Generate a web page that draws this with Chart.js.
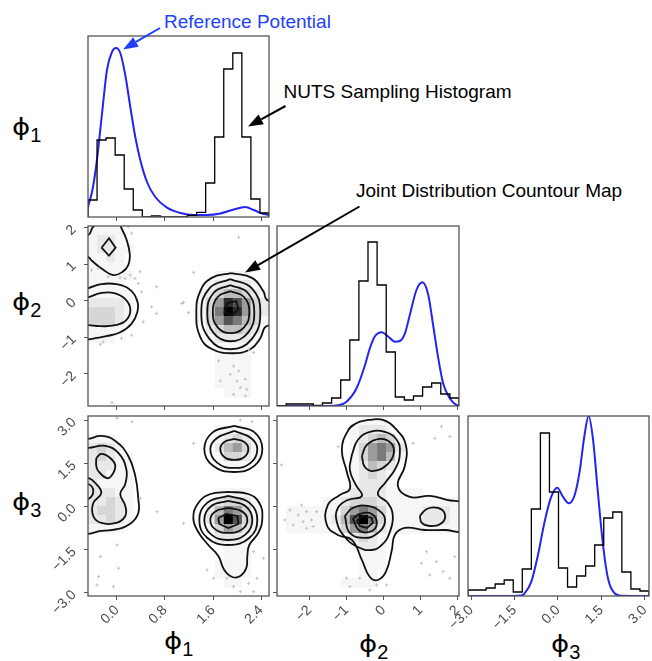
<!DOCTYPE html>
<html>
<head>
<meta charset="utf-8">
<script src="https://cdn.jsdelivr.net/npm/chart.js@4.4.0/dist/chart.umd.min.js"></script>
<style>
  body { margin: 0; background: #fff; width: 652px; height: 661px; position: relative; overflow: hidden;
         font-family: "Liberation Sans", Arial, sans-serif; }
  canvas.panel { position: absolute; }
  .note { position: absolute; font-size: 19px; line-height: 19px; white-space: nowrap; color: #000; }
  .sym { position: absolute; font-family: "DejaVu Sans", sans-serif; font-size: 23px; line-height: 23px;
         white-space: nowrap; color: #000; }
  .sym .g { display: inline-block; transform: scale(1.2, 1); transform-origin: left center; margin-right: 3px; }
  .sym .ix { font-family: "Liberation Sans", Arial, sans-serif; font-size: 20px; position: relative; top: 7px; }
  #arrows { position: absolute; left: 0; top: 0; pointer-events: none; }
</style>
</head>
<body>
<div class="note" style="left:164px;top:12px;color:#1f3fff">Reference Potential</div>
<div class="note" style="left:283.5px;top:82px">NUTS Sampling Histogram</div>
<div class="note" style="left:356px;top:180.5px">Joint Distribution Countour Map</div>

<div class="sym" style="left:12px;top:116px"><span class="g">ϕ</span><span class="ix">1</span></div>
<div class="sym" style="left:12px;top:291px"><span class="g">ϕ</span><span class="ix">2</span></div>
<div class="sym" style="left:12px;top:491px"><span class="g">ϕ</span><span class="ix">3</span></div>
<div class="sym" style="left:164px;top:630px"><span class="g">ϕ</span><span class="ix">1</span></div>
<div class="sym" style="left:359px;top:633px"><span class="g">ϕ</span><span class="ix">2</span></div>
<div class="sym" style="left:551px;top:633px"><span class="g">ϕ</span><span class="ix">3</span></div>

<canvas id="arrows" width="652" height="661"></canvas>

<script>
// axis ranges shared by the whole corner plot
const phi1Range = [-0.483, 2.533];
const phi2Range = [-2.88, 2.04];
const phi3Range = [-3.11, 3.15];

const phi1Ticks = [0, 0.8, 1.6, 2.4];
const phi2Ticks = [-2, -1, 0, 1, 2];
const phi3Ticks = [-3, -1.5, 0, 1.5, 3];

// NUTS samples, 20 bins over each range
const phi1Counts = [17, 77, 79, 62, 28, 7, 0, 1, 0, 0, 0, 1.7, 4.7, 34, 80, 148, 164, 80, 18, 4];
const phi2Counts = [0, 2, 2, 2, 0.5, 3, 8, 26, 66, 125, 164, 121, 54, 9, 6, 10, 19, 23, 12, 8];
const phi3Counts = [6, 6, 8, 12, 16, 4, 27, 87, 163, 104, 28, 9, 20, 30, 51, 78, 84, 24, 7, 5];

// reference potential (marginal density, same vertical units as the counts)
const phi1RefX = [-0.484, -0.406, -0.334, -0.25, -0.167, -0.084, -0.017, 0.055, 0.138, 0.222, 0.305, 0.388,
                  0.5, 0.638, 0.833, 1.055, 1.277, 1.5, 1.722, 1.944, 2.138, 2.277, 2.416, 2.533];
const phi1RefY = [10, 28, 57, 103, 147, 165, 169, 164, 142, 110, 80, 57, 35, 20, 9.3, 4, 2, 2, 3.5, 7.5, 10, 7, 3.5, 2];

const phi2RefX = [-2.88, -1.6, -1.27, -1.0, -0.73, -0.5, -0.37, -0.24, -0.05, 0.13, 0.31, 0.44, 0.58, 0.71,
                  0.89, 1.05, 1.21, 1.34, 1.48, 1.61, 1.79, 1.97, 2.04];
const phi2RefY = [0, 0, 0.5, 4.3, 17.7, 41, 57.7, 69.3, 73.7, 69.3, 64.3, 65, 72.7, 91, 116, 123.7, 111, 81,
                  47.7, 22.7, 7.7, 1, 0.5];

const phi3RefX = [-3.11, -1.6, -1.27, -1.15, -0.92, -0.69, -0.46, -0.23, -0.02, 0.17, 0.38, 0.58, 0.75, 0.92,
                  1.06, 1.21, 1.38, 1.56, 1.73, 1.96, 2.19, 3.15];
const phi3RefY = [0, 0, 0.5, 2.7, 14.3, 41, 74.3, 99.3, 108.3, 99.3, 92.7, 101, 124.3, 161, 180, 157.7, 104.3,
                  51, 17.7, 2.7, 0.3, 0];

// 2D histogram shading, one digit per bin (0 empty .. 9 darkest), top row first
const cells21 = [
  "11110000000000000000",
  "12210000000000000000",
  "12211000000000000000",
  "11210000000000000000",
  "11110000000000000000",
  "11111000000000111100",
  "11110000000001222210",
  "11111000000012344321",
  "22221000000013587532",
  "33321000000013698532",
  "33321000000013576431",
  "11110000000002344320",
  "11100000000001222210",
  "00000000000000111100",
  "00000000000000111100",
  "00000000000000111100",
  "00000000000000111100",
  "00000000000000111100",
  "00000000000000011100",
  "00000000000000000000"
];
const cells31 = [
  "00000000000000000000",
  "00000000000000111100",
  "11100000000000123210",
  "23210000000000245310",
  "23211000000000133210",
  "22211000000000011100",
  "22111000000000000000",
  "21111000000000000000",
  "22211000000000111100",
  "22321000000001233210",
  "23321000000002465310",
  "22321000000002597310",
  "11110000000001354210",
  "00000000000000222100",
  "00000000000000011100",
  "00000000000000011100",
  "00000000000000111100",
  "00000000000000111100",
  "00000000000000011000",
  "00000000000000000000"
];
const cells32 = [
  "00000000011100000000",
  "00000000122210000000",
  "00000000123431000000",
  "00000000135652000000",
  "00000000135641000000",
  "00000000124320000000",
  "00000000123210000000",
  "00000000122210000000",
  "00000001222211110000",
  "00000112333211111111",
  "01111113565311112221",
  "01111124796311112221",
  "01111113564211111111",
  "00000001232100000000",
  "00000000122100000000",
  "00000000011100000000",
  "00000000011100000000",
  "00000000011000000000",
  "00000001111000000000",
  "00000000000000000000"
];

// density contour levels, as (x, y) in data units
const contours21 = [
  [[1.905,0.753],[2.255,0.616],[2.438,0.26],[2.505,0.014],[2.805,-0.041],[2.805,-0.644],[2.488,-0.699],
   [2.388,-1.027],[2.222,-1.329],[1.922,-1.438],[1.588,-1.329],[1.388,-1.0],[1.322,-0.315],[1.388,0.26],
   [1.572,0.616],[1.905,0.753]],
  [[1.888,0.589],[2.248,0.337],[2.388,-0.315],[2.248,-1.044],[1.888,-1.329],[1.54,-1.044],[1.405,-0.315],
   [1.54,0.337],[1.888,0.589]],
  [[1.888,0.425],[2.177,0.216],[2.288,-0.315],[2.177,-0.888],[1.888,-1.11],[1.612,-0.888],[1.505,-0.315],
   [1.612,0.216],[1.888,0.425]],
  [[1.888,0.26],[2.117,0.099],[2.205,-0.315],[2.117,-0.729],[1.888,-0.89],[1.678,-0.729],[1.597,-0.315],
   [1.678,0.099],[1.888,0.26]],
  [[-0.695,0.26],[-0.478,0.342],[-0.262,0.452],[-0.012,0.452],[0.205,0.315],[0.338,-0.014],[0.338,-0.315],
   [0.238,-0.644],[0.055,-0.863],[-0.178,-0.973],[-0.362,-1.027],[-0.478,-1.055],[-0.695,-1.082]],
  [[-0.695,0.068],[-0.478,0.096],[-0.278,0.205],[-0.045,0.205],[0.138,0.041],[0.222,-0.233],[0.155,-0.534],
   [-0.028,-0.671],[-0.278,-0.699],[-0.478,-0.671],[-0.695,-0.644]],
  [[0.022,2.37],[0.055,2.068],[0.155,1.685],[0.213,1.274],[0.188,0.973],[0.088,0.781],[-0.062,0.699],
   [-0.245,0.863],[-0.412,1.082],[-0.478,1.192],[-0.695,1.356]],
  [[-0.695,1.74],[-0.478,1.795],[-0.412,1.986],[-0.378,2.068],[-0.362,2.37]]
];
const cores21 = [
  [[1.838,-0.068],[1.988,-0.014],[2.022,-0.233],[1.922,-0.397],[1.788,-0.315],[1.838,-0.068]],
  [[-0.257,1.447],[-0.133,1.704],[-0.023,1.447],[-0.133,1.227],[-0.257,1.447]]
];

const contours31 = [
  [[1.955,2.803],[2.292,2.581],[2.422,2.003],[2.292,1.426],[1.955,1.203],[1.595,1.426],[1.455,2.003],
   [1.595,2.581],[1.955,2.803]],
  [[1.955,2.63],[2.232,2.386],[2.338,2.003],[2.232,1.527],[1.955,1.343],[1.667,1.527],[1.555,2.003],
   [1.667,2.386],[1.955,2.63]],
  [[1.955,2.351],[2.122,2.247],[2.188,2.003],[2.122,1.725],[1.955,1.621],[1.788,1.725],[1.722,2.003],
   [1.788,2.247],[1.955,2.351]],
  [[1.855,0.508],[2.188,0.438],[2.372,0.125],[2.422,-0.397],[2.355,-0.918],[2.205,-1.336],[2.172,-1.718],
   [2.155,-2.136],[2.055,-2.414],[1.922,-2.449],[1.788,-2.205],[1.688,-1.718],[1.522,-1.336],[1.355,-0.884],
   [1.272,-0.397],[1.355,0.125],[1.555,0.438],[1.855,0.508]],
  [[1.855,0.369],[2.203,0.136],[2.338,-0.466],[2.203,-1.092],[1.855,-1.336],[1.507,-1.092],[1.372,-0.466],
   [1.507,0.136],[1.855,0.369]],
  [[1.855,0.195],[2.143,0.01],[2.255,-0.466],[2.143,-0.967],[1.855,-1.162],[1.567,-0.967],[1.455,-0.466],
   [1.567,0.01],[1.855,0.195]],
  [[1.855,-0.049],[2.083,-0.167],[2.172,-0.466],[2.083,-0.793],[1.855,-0.918],[1.638,-0.793],[1.555,-0.466],
   [1.638,-0.167],[1.855,-0.049]],
  [[-0.695,2.317],[-0.478,2.351],[-0.262,2.456],[-0.028,2.282],[0.188,1.76],[0.305,1.064],[0.355,0.264],
   [0.355,-0.223],[0.238,-0.57],[0.022,-0.779],[-0.262,-0.849],[-0.478,-0.953],[-0.695,-0.988]],
  [[-0.695,2.038],[-0.478,2.038],[-0.195,2.108],[0.022,1.864],[0.155,1.308],[0.138,0.786],[0.055,0.438],
   [0.138,0.021],[0.138,-0.327],[-0.012,-0.57],[-0.262,-0.57],[-0.395,-0.327],[-0.395,0.125],[-0.262,0.473],
   [-0.362,0.821],[-0.478,0.995],[-0.695,1.064]],
  [[-0.695,0.821],[-0.478,0.786],[-0.395,0.543],[-0.478,0.264],[-0.695,0.23]],
  [[-0.345,1.69],[-0.262,1.83],[-0.112,1.69],[-0.028,1.412],[-0.095,1.064],[-0.178,0.995],[-0.312,1.238],
   [-0.345,1.412],[-0.345,1.69]]
];
const cores31 = [
  [[1.688,-0.397],[1.822,-0.257],[2.005,-0.327],[2.022,-0.605],[1.855,-0.744],[1.705,-0.605],[1.688,-0.397]]
];

const contours32 = [
  [[-0.424,3.012],[-0.019,3.012],[0.359,2.664],[0.603,2.143],[0.576,1.412],[0.386,0.717],[0.711,0.334],
   [1.251,0.369],[1.711,0.23],[2.197,0.056],[2.197,-0.814],[1.657,-0.814],[1.116,-0.814],[0.576,-0.744],
   [0.305,-0.988],[0.224,-1.51],[0.062,-2.275],[-0.154,-2.553],[-0.37,-2.449],[-0.586,-1.857],[-0.857,-1.162],
   [-1.235,-0.988],[-1.532,-0.64],[-1.505,0.056],[-1.181,0.403],[-0.911,0.612],[-0.992,1.204],[-1.127,1.969],
   [-0.965,2.63],[-0.722,2.908],[-0.424,3.012]],
  [[-0.857,1.795],[-0.695,2.317],[-0.37,2.595],[0.035,2.595],[0.359,2.317],[0.441,1.865],[0.332,1.343],
   [0.062,0.856],[-0.154,0.438],[0.116,0.125],[0.251,-0.327],[0.17,-0.883],[-0.019,-1.301],[-0.316,-1.51],
   [-0.695,-1.405],[-1.046,-1.057],[-1.262,-0.536],[-1.235,-0.049],[-0.965,0.23],[-0.586,0.369],[-0.749,0.751],
   [-0.911,1.273],[-0.857,1.795]],
  [[-0.586,1.76],[-0.451,2.143],[-0.1,2.351],[0.197,2.212],[0.278,1.864],[0.116,1.482],[-0.262,1.238],
   [-0.505,1.377],[-0.586,1.76]],
  [[-1.046,-0.327],[-0.83,-0.049],[-0.424,0.021],[-0.046,-0.223],[0.035,-0.57],[-0.154,-0.918],[-0.505,-1.092],
   [-0.911,-0.918],[-1.046,-0.327]],
  [[-0.83,-0.431],[-0.641,-0.257],[-0.316,-0.257],[-0.181,-0.57],[-0.316,-0.849],[-0.641,-0.849],[-0.83,-0.431]],
  [[0.981,-0.327],[1.17,-0.083],[1.468,-0.049],[1.657,-0.257],[1.576,-0.57],[1.251,-0.675],[1.035,-0.57],
   [0.981,-0.327]]
];
const cores32 = [
  [[-0.722,-0.501],[-0.559,-0.327],[-0.316,-0.397],[-0.289,-0.57],[-0.451,-0.744],[-0.641,-0.675],[-0.722,-0.501]]
];

// stray samples outside the contours
const points21 = [[0.188,2.022],[0.243,1.841],[0.383,0.789],[0.3,0.608],[0.133,0.608],[0.355,0.471],[0.41,0.241],
  [0.66,0.378],[0.577,-0.17],[0.66,-0.351],[0.438,-0.581],[-0.228,-1.129],[0.077,-1.036],[0.243,-0.945],
  [-0.423,0.836],[-0.312,0.882],[-0.145,0.652],[0.05,0.625],[0.217,0.699],[1.277,0.773],[1.083,-0.077],
  [2.027,1.732],[1.693,-1.649],[1.943,-1.786],[1.888,-2.014],[2.027,-1.923],[2.138,-2.151],[2.0,-2.197],
  [2.055,-2.378],[2.167,-2.425],[2.138,-2.608],[1.943,-2.562],[1.722,-2.197],[2.193,-1.329],[2.277,-1.419],
  [-0.083,-2.789],[-0.278,-1.192],[1.11,-0.049],[1.193,-0.323]];
const points31 = [[0,3.071],[0.25,2.953],[2.055,3.012],[2.25,2.953],[1.277,2.202],[0.388,0.289],[0.667,-0.177],
  [1.11,-0.581],[0,-1.336],[-0.278,-1.743],[-0.307,-2.438],[-0.333,-2.727],[-0.057,-2.786],[0.027,-2.146],
  [1.5,-2.205],[1.61,-2.494],[1.833,-2.494],[1.943,-2.786],[2.193,-2.668],[2.333,-2.494],[2.055,-2.96],
  [2.277,-2.96],[2.443,-1.798],[2.277,-1.569]];
const points32 = [[-2.532,-0.118],[-2.216,0.056],[-2.308,-0.292],[-2.081,-0.177],[-1.946,-0.466],[-2.173,-0.525],
  [-2.443,-0.64],[-1.811,-0.177],[-1.903,-0.699],[-2.668,-0.466],[-2.757,1.447],[-2.081,-0.755],[1.792,2.431],
  [1.386,2.376],[1.568,2.779],[0.8,2.202],[-1.227,2.083],[-0.641,-2.494],[-0.189,-2.727],[-0.911,-2.786],
  [-0.37,-2.901],[0.081,-2.727],[-1.0,-2.494],[1.162,-1.569],[1.432,-1.917],[1.611,-2.264],[1.251,-2.379],
  [1.792,-2.494],[1.027,-1.972],[1.927,-1.743]];

const nBins = 20;
const ML = 70, MR = 16, MT = 28, MB = 52;
const font = "'Liberation Sans', Arial, sans-serif";
const shades = ['', '#f6f6f6', '#e8e8e8', '#d6d6d6', '#bcbcbc', '#9c9c9c', '#7a7a7a', '#545454', '#2c2c2c', '#000000'];

const fmt1 = v => (v < 0 ? '\u2212' : '') + Math.abs(v).toFixed(1);
const fmt0 = v => (v < 0 ? '\u2212' : '') + Math.abs(v).toFixed(0);

// shaded 2D histogram under the contours
const cellPlugin = {
  id: 'cells',
  beforeDatasetsDraw(chart, args, opts) {
    if (!opts.rows) return;
    const { ctx, chartArea: a, scales: { x, y } } = chart;
    const wx = (opts.xr[1] - opts.xr[0]) / nBins, wy = (opts.yr[1] - opts.yr[0]) / nBins;
    ctx.save();
    ctx.beginPath(); ctx.rect(a.left, a.top, a.width, a.height); ctx.clip();
    opts.rows.forEach((row, r) => {
      const j = opts.rows.length - 1 - r;
      [...row].forEach((ch, i) => {
        const d = +ch;
        if (!d) return;
        const x0 = x.getPixelForValue(opts.xr[0] + i * wx), x1 = x.getPixelForValue(opts.xr[0] + (i + 1) * wx);
        const y0 = y.getPixelForValue(opts.yr[0] + (j + 1) * wy), y1 = y.getPixelForValue(opts.yr[0] + j * wy);
        ctx.fillStyle = shades[d];
        ctx.fillRect(x0, y0, x1 - x0 + 0.4, y1 - y0 + 0.4);
      });
    });
    ctx.restore();
  }
};

// box round every panel
const framePlugin = {
  id: 'frame',
  afterDatasetsDraw(chart) {
    const { ctx, chartArea: a } = chart;
    ctx.save();
    ctx.strokeStyle = '#555';
    ctx.lineWidth = 1.3;
    ctx.strokeRect(a.left, a.top, a.width, a.height);
    ctx.restore();
  }
};

function axis(range, ticks, fmt, labels, horizontal) {
  return {
    type: 'linear', min: range[0], max: range[1],
    afterBuildTicks: s => { s.ticks = ticks.map(v => ({ value: v })); },
    afterFit: s => { if (horizontal) s.height = MB; else s.width = ML; },
    border: { display: false },
    grid: { drawOnChartArea: false, drawTicks: true, tickLength: 4, color: '#555' },
    ticks: { display: labels, autoSkip: false, minRotation: 45, maxRotation: 45, padding: horizontal ? 2 : 10,
             color: '#4a4a4a', font: { family: font, size: 14 }, callback: v => fmt(v) }
  };
}

const countAxis = max => ({ type: 'linear', display: false, min: 0, max: max });

const pts = list => list.map(([x, y]) => ({ x, y }));
const pairs = (xs, ys) => xs.map((x, k) => ({ x, y: ys[k] }));

function stepData(range, counts) {
  const w = (range[1] - range[0]) / counts.length;
  const out = [{ x: range[0], y: 0 }];
  counts.forEach((c, k) => out.push({ x: range[0] + k * w, y: c }));
  out.push({ x: range[1], y: counts[counts.length - 1] }, { x: range[1], y: 0 });
  return out;
}

function histSets(range, counts, refX, refY) {
  return [
    { data: stepData(range, counts), showLine: true, stepped: 'before', borderColor: '#000', borderWidth: 1.3, pointRadius: 0 },
    { data: pairs(refX, refY), showLine: true, borderColor: '#2424f2', borderWidth: 2, pointRadius: 0,
      cubicInterpolationMode: 'monotone' }
  ];
}

function jointSets(points, contours, cores) {
  const sets = [{ data: pts(points), pointStyle: 'cross', pointRadius: 1.6, borderColor: '#c2c2c2', borderWidth: 1 }];
  contours.forEach(c => sets.push({ data: pts(c), showLine: true, borderColor: '#111', borderWidth: 1.8,
                                    pointRadius: 0, tension: 0.45 }));
  cores.forEach(c => sets.push({ data: pts(c), showLine: true, borderColor: '#111', borderWidth: 1.8,
                                 pointRadius: 0, tension: 0 }));
  return sets;
}

function panel(frame, xAxis, yAxis, datasets, cells) {
  const [left, top, w, h] = frame;
  const cv = document.createElement('canvas');
  cv.className = 'panel';
  cv.width = w + ML + MR;
  cv.height = h + MT + MB;
  cv.style.left = (left - ML) + 'px';
  cv.style.top = (top - MT) + 'px';
  document.body.insertBefore(cv, document.getElementById('arrows'));
  const yShown = yAxis.display !== false;
  new Chart(cv, {
    type: 'scatter',
    data: { datasets },
    options: {
      responsive: false, animation: false, events: [],
      layout: { padding: { left: yShown ? 0 : ML, right: MR, top: MT, bottom: 0 } },
      scales: { x: xAxis, y: yAxis },
      plugins: { legend: { display: false }, tooltip: { enabled: false }, cells: cells || {} }
    },
    plugins: [cellPlugin, framePlugin]
  });
}

// diagonal: marginal histograms
panel([88, 36, 181, 181], axis(phi1Range, phi1Ticks, fmt1, false, true), countAxis(181),
      histSets(phi1Range, phi1Counts, phi1RefX, phi1RefY));
panel([277, 226, 182, 180], axis(phi2Range, phi2Ticks, fmt0, false, true), countAxis(180),
      histSets(phi2Range, phi2Counts, phi2RefX, phi2RefY));
panel([468, 416, 181, 180], axis(phi3Range, phi3Ticks, fmt1, true, true), countAxis(180),
      histSets(phi3Range, phi3Counts, phi3RefX, phi3RefY));

// lower triangle: joint distributions
panel([88, 226, 181, 180], axis(phi1Range, phi1Ticks, fmt1, false, true), axis(phi2Range, phi2Ticks, fmt0, true, false),
      jointSets(points21, contours21, cores21), { rows: cells21, xr: phi1Range, yr: phi2Range });
panel([88, 416, 181, 180], axis(phi1Range, phi1Ticks, fmt1, true, true), axis(phi3Range, phi3Ticks, fmt1, true, false),
      jointSets(points31, contours31, cores31), { rows: cells31, xr: phi1Range, yr: phi3Range });
panel([277, 416, 182, 180], axis(phi2Range, phi2Ticks, fmt0, true, true), axis(phi3Range, phi3Ticks, fmt1, false, false),
      jointSets(points32, contours32, cores32), { rows: cells32, xr: phi2Range, yr: phi3Range });

// annotation arrows
const actx = document.getElementById('arrows').getContext('2d');
function arrow(x0, y0, x1, y1, color) {
  const ang = Math.atan2(y1 - y0, x1 - x0), head = 15, half = 5.5;
  const bx = x1 - head * Math.cos(ang), by = y1 - head * Math.sin(ang);
  actx.strokeStyle = actx.fillStyle = color;
  actx.lineWidth = 2;
  actx.beginPath(); actx.moveTo(x0, y0); actx.lineTo(bx, by); actx.stroke();
  actx.beginPath();
  actx.moveTo(x1, y1);
  actx.lineTo(bx - half * Math.sin(ang), by + half * Math.cos(ang));
  actx.lineTo(bx + half * Math.sin(ang), by - half * Math.cos(ang));
  actx.closePath(); actx.fill();
}
arrow(160, 28, 123, 49.5, '#1f3fff');
arrow(285.5, 106, 248, 126.5, '#000');
arrow(359.5, 206.5, 245, 272.5, '#000');
</script>
</body>
</html>
